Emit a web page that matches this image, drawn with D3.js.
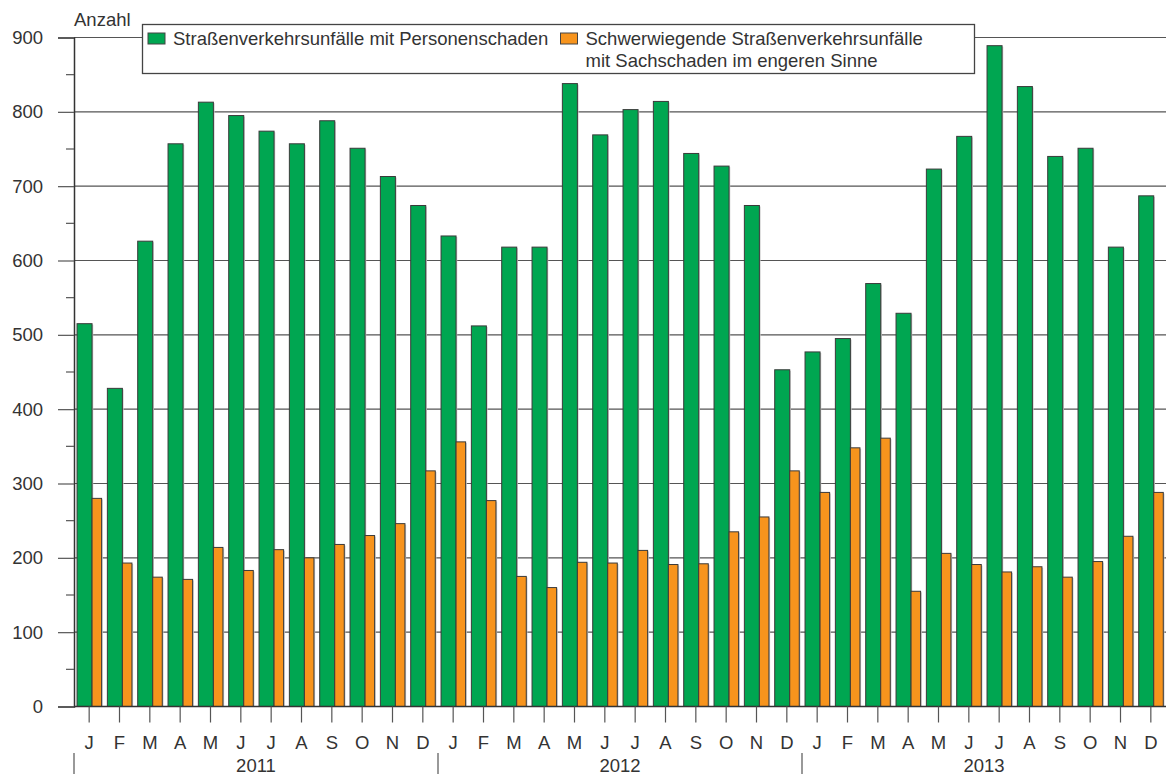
<!DOCTYPE html>
<html>
<head>
<meta charset="utf-8">
<script src="https://cdn.jsdelivr.net/npm/d3@7"></script>
<style>
  body { margin: 0; background: #fff; }
  svg { display: block; font-family: 'Liberation Sans', Arial, sans-serif; }
</style>
</head>
<body>
<svg id="chart" width="1166" height="774"></svg>
<script>
const WIDTH = 1166;
const HEIGHT = 774;
const FONT = 18.5;

const years = ['2011', '2012', '2013'];
const monthLabels = ['J', 'F', 'M', 'A', 'M', 'J', 'J', 'A', 'S', 'O', 'N', 'D'];

// Straßenverkehrsunfälle mit Personenschaden
const personenschaden = [
  515, 428, 626, 757, 813, 795, 774, 757, 788, 751, 713, 674,
  633, 512, 618, 618, 838, 769, 803, 814, 744, 727, 674, 453,
  477, 495, 569, 529, 723, 767, 889, 834, 740, 751, 618, 687,
];

// Schwerwiegende Straßenverkehrsunfälle mit Sachschaden im engeren Sinne
const sachschaden = [
  280, 193, 174, 171, 214, 183, 211, 200, 218, 230, 246, 317,
  356, 277, 175, 160, 194, 193, 210, 191, 192, 235, 255, 317,
  288, 348, 361, 155, 206, 191, 181, 188, 174, 195, 229, 288,
];

const yTicks = [0, 100, 200, 300, 400, 500, 600, 700, 800, 900];
const yMinorTicks = [50, 150, 250, 350, 450, 550, 650, 750, 850];

const legendItems = [
  {label: ['Straßenverkehrsunfälle mit Personenschaden'], color: '#00a651'},
  {label: ['Schwerwiegende Straßenverkehrsunfälle', 'mit Sachschaden im engeren Sinne'], color: '#f7941d'},
];

const GREEN = '#00a651';
const ORANGE = '#f7941d';
const TEXT = '#333';

function drawChart() {
  const margin = {top: 37.5, right: 0, bottom: 67.5, left: 74};
  const svg = d3.select('#chart');

  const months = [];
  years.forEach((yr) => monthLabels.forEach((m, i) => months.push({key: `${yr}-${i}`, label: m, year: yr})));

  const x = d3.scaleBand()
    .domain(months.map((d) => d.key))
    .range([margin.left, WIDTH - margin.right])
    .padding(0);

  const y = d3.scaleLinear()
    .domain([0, 900])
    .range([HEIGHT - margin.bottom, margin.top]);

  const bw = x.bandwidth();

  // gridlines
  svg.append('g')
    .selectAll('line')
    .data(yTicks.slice(1))
    .join('line')
    .attr('x1', margin.left)
    .attr('x2', WIDTH)
    .attr('y1', (d) => y(d))
    .attr('y2', (d) => y(d))
    .attr('stroke', '#555')
    .attr('stroke-width', 1.2);

  const data = months.map((m, i) => ({...m, p: personenschaden[i], s: sachschaden[i]}));

  const series = [
    {key: 'p', color: GREEN, offset: 0.1, width: 0.495},
    {key: 's', color: ORANGE, offset: 0.595, width: 0.315},
  ];

  const bars = svg.append('g');
  series.forEach((s) => {
    // light edge on the right like the printed original
    bars.append('g')
      .selectAll('rect')
      .data(data)
      .join('rect')
      .attr('x', (d) => x(d.key) + bw * s.offset + 1.2)
      .attr('y', (d) => y(d[s.key]) + 1)
      .attr('width', bw * s.width)
      .attr('height', (d) => y(0) - y(d[s.key]) - 1)
      .attr('fill', '#c8c8c8');
  });
  series.forEach((s) => {
    bars.append('g')
      .selectAll('rect')
      .data(data)
      .join('rect')
      .attr('x', (d) => x(d.key) + bw * s.offset)
      .attr('y', (d) => y(d[s.key]))
      .attr('width', bw * s.width)
      .attr('height', (d) => y(0) - y(d[s.key]))
      .attr('fill', s.color)
      .attr('stroke', '#3a3a3a')
      .attr('stroke-width', 1);
  });

  // y axis
  const yAxis = svg.append('g')
    .attr('transform', `translate(${margin.left},0)`)
    .call(d3.axisLeft(y).tickValues(yTicks).tickSize(16).tickPadding(15).tickFormat(d3.format('d')));
  yAxis.select('.domain').attr('stroke', '#333').attr('stroke-width', 1.5);
  yAxis.selectAll('.tick line').attr('stroke', '#555').attr('stroke-width', 1.2);
  yAxis.selectAll('.tick text')
    .attr('fill', TEXT)
    .attr('font-size', FONT)
    .attr('font-family', "'Liberation Sans', Arial, sans-serif");

  svg.append('g')
    .selectAll('line')
    .data(yMinorTicks)
    .join('line')
    .attr('x1', margin.left - 8)
    .attr('x2', margin.left)
    .attr('y1', (d) => y(d))
    .attr('y2', (d) => y(d))
    .attr('stroke', '#555')
    .attr('stroke-width', 1.2);

  // x axis
  const xAxis = svg.append('g')
    .attr('transform', `translate(0,${y(0)})`)
    .call(d3.axisBottom(x).tickSize(16).tickPadding(13).tickFormat((k) => months.find((m) => m.key === k).label));
  xAxis.select('.domain').attr('stroke', '#333').attr('stroke-width', 1.5).attr('d', `M${margin.left},0H${WIDTH}`);
  xAxis.selectAll('.tick line').attr('stroke', '#555').attr('stroke-width', 1.2);
  xAxis.selectAll('.tick text')
    .attr('fill', TEXT)
    .attr('font-size', FONT)
    .attr('font-family', "'Liberation Sans', Arial, sans-serif");

  // year labels and separators
  years.forEach((yr) => {
    const start = x(`${yr}-0`);
    const end = x(`${yr}-11`) + bw;
    svg.append('line')
      .attr('x1', start)
      .attr('x2', start)
      .attr('y1', 753)
      .attr('y2', HEIGHT)
      .attr('stroke', '#555')
      .attr('stroke-width', 1.2);
    svg.append('text')
      .attr('x', (start + end) / 2)
      .attr('y', 771.5)
      .attr('text-anchor', 'middle')
      .attr('font-size', FONT)
      .attr('fill', TEXT)
      .text(yr);
  });

  // y axis unit label
  svg.append('text')
    .attr('x', margin.left)
    .attr('y', 26)
    .attr('font-size', FONT)
    .attr('fill', TEXT)
    .text('Anzahl');

  // legend
  const lg = svg.append('g');
  lg.append('rect')
    .attr('x', 142.5)
    .attr('y', 24.5)
    .attr('width', 832)
    .attr('height', 49)
    .attr('fill', '#fff')
    .attr('stroke', '#444')
    .attr('stroke-width', 1.3);

  const legendX = [148, 560.5];
  legendItems.forEach((item, i) => {
    lg.append('rect')
      .attr('x', legendX[i])
      .attr('y', 33)
      .attr('width', 17)
      .attr('height', 11)
      .attr('fill', item.color)
      .attr('stroke', '#444')
      .attr('stroke-width', 1);
    item.label.forEach((line, j) => {
      lg.append('text')
        .attr('x', legendX[i] + 25)
        .attr('y', 45 + j * 22)
        .attr('font-size', FONT)
        .attr('fill', TEXT)
        .text(line);
    });
  });
}

drawChart();
</script>
</body>
</html>
